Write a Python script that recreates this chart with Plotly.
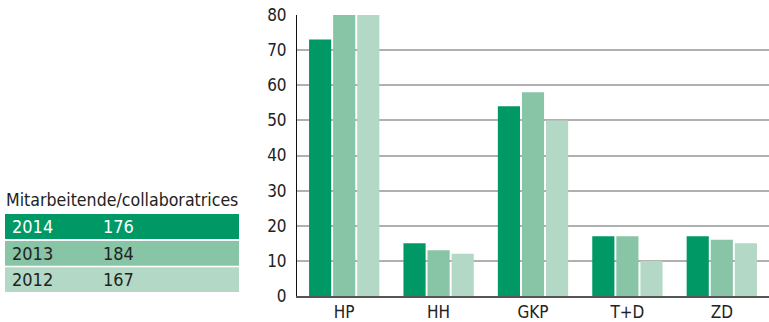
import plotly.graph_objects as go

categories = ["HP", "HH", "GKP", "T+D", "ZD"]
years = ["2014", "2013", "2012"]
values_2014 = [73, 15, 54, 17, 17]
values_2013 = [80, 13, 58, 17, 16]
values_2012 = [80, 12, 50, 10, 15]
series = [values_2014, values_2013, values_2012]
colors = ["#009966", "#88c4a6", "#b3d9c6"]
text_colors = ["#ffffff", "#222222", "#222222"]
y_ticks = [0, 10, 20, 30, 40, 50, 60, 70, 80]
table_title = "Mitarbeitende/collaboratrices"

FONT = "Liberation Sans Narrow, DejaVu Sans Condensed, Arial Narrow, sans-serif"

W, H = 769, 322
L, R, T, B = 297, 0, 15, 24
pw, ph = W - L - R, H - T - B


def px(x):
    return (x - L) / pw


def py(y):
    return (H - B - y) / ph


fig = go.Figure()
for name, vals, col in zip(years, series, colors):
    fig.add_trace(go.Bar(x=categories, y=vals, name=name, marker_color=col,
                         marker_line_width=0, showlegend=False))

# Staff totals table on the left
shapes = []
annotations = [dict(text=table_title, x=px(4), y=py(213), xref="paper", yref="paper",
                    xanchor="left", yanchor="bottom", showarrow=False,
                    font=dict(family=FONT, size=17.6, color="#222222"))]
row_tops = [215.5, 242.5, 269.0]
row_h = 25.0
for top, name, vals, col, tc in zip(row_tops, years, series, colors, text_colors):
    shapes.append(dict(type="rect", xref="paper", yref="paper",
                       x0=px(5), x1=px(239), y0=py(top + row_h), y1=py(top),
                       fillcolor=col, line_width=0, layer="above"))
    mid = py(top + row_h / 2)
    annotations.append(dict(text=name, x=px(10), y=mid, xref="paper", yref="paper",
                            xanchor="left", yanchor="middle", showarrow=False,
                            font=dict(family=FONT, size=18, color=tc)))
    annotations.append(dict(text=str(sum(vals)), x=px(101), y=mid, xref="paper", yref="paper",
                            xanchor="left", yanchor="middle", showarrow=False,
                            font=dict(family=FONT, size=18, color=tc)))

fig.update_layout(
    width=W, height=H,
    margin=dict(l=L, r=R, t=T, b=B, pad=0),
    plot_bgcolor="white", paper_bgcolor="white",
    barmode="group", bargap=0.235, bargroupgap=0.08,
    font=dict(family=FONT, size=17, color="#222222"),
    shapes=shapes, annotations=annotations,
    xaxis=dict(range=[-0.5, 4.5], showgrid=False, showline=True, linecolor="#555555",
               linewidth=2, ticks="", tickfont=dict(size=17), fixedrange=True),
    yaxis=dict(range=[0, 80], tickvals=y_ticks, showgrid=True, gridcolor="#b0b0b0",
               gridwidth=1.5, showline=True, linecolor="#111111", linewidth=1,
               ticks="", ticklabelstandoff=6, tickfont=dict(size=17),
               zeroline=False, fixedrange=True),
)

fig.write_html("out.html")
